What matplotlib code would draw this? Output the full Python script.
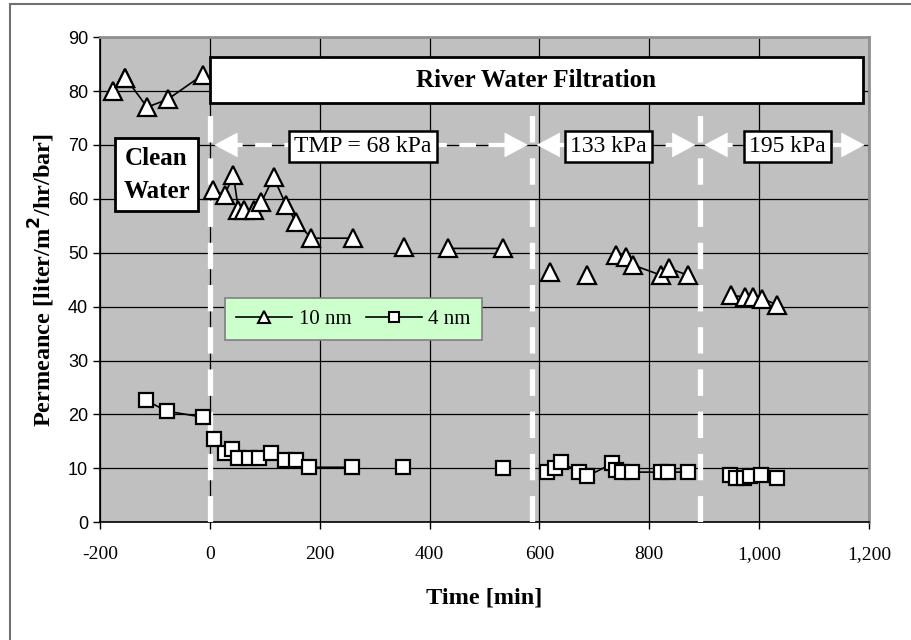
import matplotlib.pyplot as plt
import numpy as np
from matplotlib.lines import Line2D
from matplotlib.patches import Rectangle
from matplotlib.ticker import FuncFormatter

SERIF = "Liberation Serif"
GRAY = "#c0c0c0"

# 10 nm membrane (triangles); NaN breaks the connecting line
t10 = [-177, -154, np.nan, -154, -114, -76, -13, np.nan,
       5, 27, 43, 52, 63, 80, 94, 116, 139, 157, 185, 261, np.nan,
       353, np.nan, 433, 534, np.nan,
       619, np.nan, 686, np.nan, 740, 757, 771, 822, 836, 871, np.nan,
       948, 974, 988, 1006, 1033]
p10 = [80, 82.5, np.nan, 82.5, 77, 78.5, 83, np.nan,
       61.6, 60.7, 64.4, 58, 58, 58, 59.4, 64, 58.8, 55.7, 52.7, 52.7, np.nan,
       51, np.nan, 50.8, 50.8, np.nan,
       46.4, np.nan, 45.8, np.nan, 49.5, 49.2, 47.7, 45.8, 47.1, 45.8, np.nan,
       42.1, 41.8, 41.8, 41.5, 40.3]

# 4 nm membrane (squares)
t4 = [-116, -78, -13, np.nan,
      7, 27, 40, 52, 71, 89, 112, 136, 156, 181, 259, np.nan,
      351, np.nan, 534, np.nan,
      613, 628, 640, 672, 686, 733, 740, 751, 769, 821, 834, 871, np.nan,
      946, 957, 972, 984, 1003, 1033]
p4 = [22.6, 20.6, 19.5, np.nan,
      15.4, 12.8, 13.5, 11.9, 12, 12, 12.8, 11.5, 11.5, 10.2, 10.2, np.nan,
      10.2, np.nan, 10, np.nan,
      9.3, 10, 11.1, 9.3, 8.5, 10.9, 9.6, 9.3, 9.3, 9.3, 9.3, 9.3, np.nan,
      8.7, 8.2, 8.2, 8.5, 8.7, 8.2]

# pressure stages: (start, end, label, label x)
stages = [(0, 587, "TMP = 68 kPa", 279),
          (587, 892, "133 kPa", 726),
          (892, 1200, "195 kPa", 1052)]
stage_edges = [0, 587, 892]

fig = plt.figure(figsize=(9.12, 6.4), dpi=100)
fig.patches.append(Rectangle((0.011, -0.1), 1.2, 1.093, transform=fig.transFigure,
                             fill=False, edgecolor="#707070", linewidth=1.5))
ax = fig.add_axes([0.1096, 0.184, 0.8433, 0.758])
ax.set_facecolor(GRAY)

ax.set_xlim(-200, 1200)
ax.set_ylim(0, 90)
ax.set_xticks(np.arange(-200, 1201, 200))
ax.set_yticks(np.arange(0, 91, 10))
ax.xaxis.set_major_formatter(FuncFormatter(lambda v, _: f"{v:,.0f}"))
ax.grid(True, color="black", linewidth=0.9)
ax.set_axisbelow(True)
for side in ("top", "right"):
    ax.spines[side].set_color("#909090")
    ax.spines[side].set_linewidth(2)
for side in ("left", "bottom"):
    ax.spines[side].set_linewidth(1.2)
ax.tick_params(direction="out", length=5, width=1)
ax.tick_params(axis="x", pad=12)
for lab in ax.get_xticklabels():
    lab.set_fontfamily(SERIF)
    lab.set_fontsize(14)
for lab in ax.get_yticklabels():
    lab.set_fontfamily("Liberation Sans")
    lab.set_fontsize(13)

# white dashed stage separators
for x in stage_edges:
    ax.plot([x, x], [0, 77.7], color="white", linewidth=3.8, dashes=(5, 3), zorder=3)

# data series
ax.plot(t10, p10, color="black", linewidth=1.2, marker="^", markersize=12.5,
        markerfacecolor="white", markeredgecolor="black", markeredgewidth=1.6, zorder=5)
ax.plot(t4, p4, color="black", linewidth=1.2, marker="s", markersize=10.5,
        markerfacecolor="white", markeredgecolor="black", markeredgewidth=1.6, zorder=5)

# stage arrows and labels
for x0, x1, label, lx in stages:
    ax.plot([x0 + 30, x1 - 30], [70, 70], color="white", linewidth=3, dashes=(4, 3), zorder=3)
    for tip, tail in ((x0 + 3, x0 + 45), (x1 - 3, x1 - 45)):
        ax.annotate("", xy=(tip, 70), xytext=(tail, 70),
                    arrowprops=dict(arrowstyle="-|>,head_length=1.6,head_width=0.85",
                                    color="white", linewidth=0.5), zorder=4)
    ax.text(lx, 69.7, label, fontfamily=SERIF, fontsize=17, ha="center", va="center",
            bbox=dict(boxstyle="square,pad=0.22", facecolor="white", edgecolor="black",
                      linewidth=1.8), zorder=6)

# River water box
ax.add_patch(Rectangle((0, 77.7), 1189, 8.6, facecolor="white", edgecolor="black",
                       linewidth=2, zorder=6))
ax.text(594, 82, "River Water Filtration", fontfamily=SERIF, fontsize=18,
        fontweight="bold", ha="center", va="center", zorder=7)

# Clean water box
ax.add_patch(Rectangle((-172, 57.7), 150, 13.5, facecolor="white", edgecolor="black",
                       linewidth=2, zorder=6))
ax.text(-97, 64.5, "Clean\nWater", fontfamily=SERIF, fontsize=18, fontweight="bold",
        ha="center", va="center", linespacing=1.55, zorder=7)

handles = [
    Line2D([], [], color="black", linewidth=1.2, marker="^", markersize=8,
           markerfacecolor="white", markeredgecolor="black", markeredgewidth=1.5),
    Line2D([], [], color="black", linewidth=1.2, marker="s", markersize=7,
           markerfacecolor="white", markeredgecolor="black", markeredgewidth=1.5),
]
leg = ax.legend(handles, ["10 nm", "4 nm"], ncol=2, loc="lower left",
                bbox_to_anchor=(0.162, 0.375), prop={"family": SERIF, "size": 15},
                frameon=True, fancybox=False, framealpha=1, handlelength=2.7,
                columnspacing=0.7, handletextpad=0.3, borderpad=0.55, borderaxespad=0)
leg.get_frame().set_facecolor("#ccffcc")
leg.get_frame().set_edgecolor("#808080")
leg.get_frame().set_linewidth(1.2)
leg.set_zorder(8)

ax.set_xlabel("Time [min]", fontfamily=SERIF, fontsize=17.5, fontweight="bold", labelpad=18)
ax.set_ylabel("Permeance [liter/m$^{\\mathbf{2}}$/hr/bar]", fontfamily=SERIF, fontsize=17.5,
              fontweight="bold", labelpad=8)

fig.savefig("out.png", dpi=100)
